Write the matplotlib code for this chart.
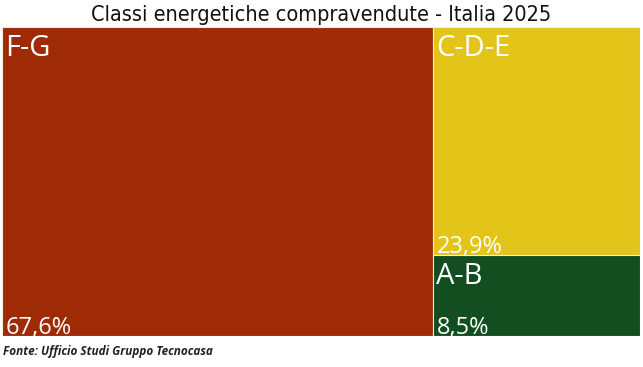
import matplotlib.pyplot as plt
from matplotlib.patches import Rectangle

# data
labels = ["F-G", "C-D-E", "A-B"]
values = [67.6, 23.9, 8.5]
value_labels = ["67,6%", "23,9%", "8,5%"]
colors = ["#9E2A06", "#E3C418", "#134E20"]

title = "Classi energetiche compravendute - Italia 2025"
source = "Fonte: Ufficio Studi Gruppo Tecnocasa"

W, H = 643, 367
fig = plt.figure(figsize=(W / 100, H / 100), dpi=100)
ax = fig.add_axes([2 / W, 1 - 336 / H, 638 / W, 309 / H])
ax.set_xlim(0, 1)
ax.set_ylim(1, 0)
ax.axis("off")

# simple treemap: first block takes a full column, the rest stack on the right
total = sum(values)
w0 = values[0] / total
rects = [(0, 0, w0, 1)]
rest = sum(values[1:])
y = 0
for v in values[1:]:
    h = v / rest
    rects.append((w0, y, 1 - w0, h))
    y += h

for (x0, y0, w, h), lab, vl, c in zip(rects, labels, value_labels, colors):
    ax.add_patch(Rectangle((x0, y0), w, h, facecolor=c, edgecolor="#f4ecd8", linewidth=0.8))
    ax.text(x0 + 0.005, y0 + 0.022, lab, color="white", fontsize=21,
            family="Open Sans", va="top", ha="left")
    ax.text(x0 + 0.006, y0 + h + 0.012, vl, color="white", fontsize=17,
            family="Open Sans", va="bottom", ha="left")

fig.text(0.5, 1 - 15 / H, title, ha="center", va="center", fontsize=15.5,
         family="DejaVu Sans", stretch="condensed", color="#111111")
fig.text(3 / W, 1 - 351 / H, source, ha="left", va="center", fontsize=8.5,
         family="Open Sans", weight="bold", style="italic", color="#222222")

fig.savefig("out.png", dpi=100)
